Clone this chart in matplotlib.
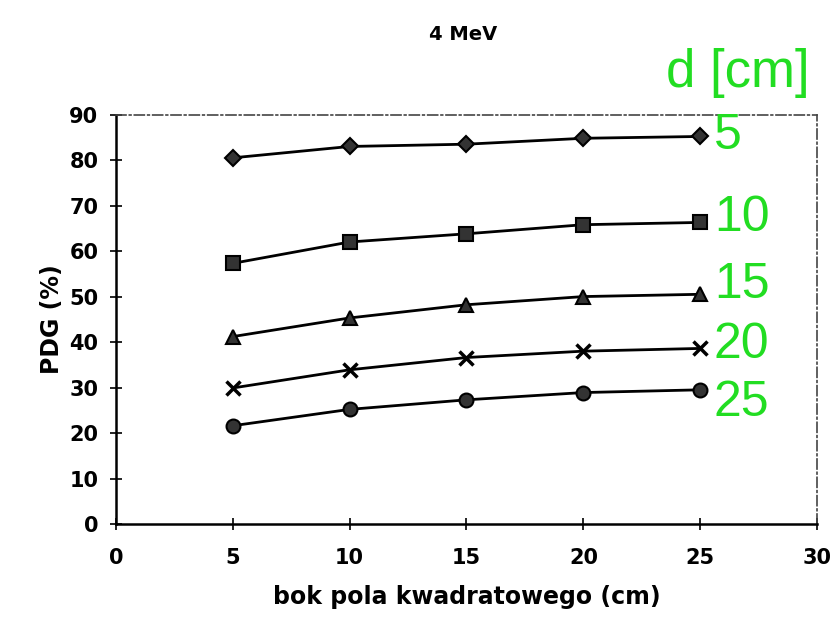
import matplotlib.pyplot as plt

# bok pola kwadratowego (cm)
bok = [5, 10, 15, 20, 25]

# PDG (%) dla kolejnych glebokosci d [cm]
pdg_d5 = [80.5, 83.0, 83.5, 84.8, 85.2]
pdg_d10 = [57.3, 62.0, 63.8, 65.8, 66.3]
pdg_d15 = [41.2, 45.3, 48.2, 50.0, 50.5]
pdg_d20 = [29.9, 33.9, 36.6, 38.0, 38.6]
pdg_d25 = [21.6, 25.2, 27.3, 28.9, 29.5]

glebokosci = ['5', '10', '15', '20', '25']
serie = [pdg_d5, pdg_d10, pdg_d15, pdg_d20, pdg_d25]
markery = ['D', 's', '^', 'x', 'o']
rozmiary = [8, 10, 10, 10, 10]

fig = plt.figure(figsize=(8.33, 6.25), dpi=100)
ax = fig.add_axes([0.139, 0.1616, 0.842, 0.655])

for waarden, m, ms in zip(serie, markery, rozmiary):
    ax.plot(bok, waarden, color='black', lw=2, marker=m, markersize=ms,
            markerfacecolor='#333333', markeredgecolor='black', mew=1.5 if m != 'x' else 2.5)

ax.set_xlim(0, 30)
ax.set_ylim(0, 90)
ax.set_xticks(range(0, 31, 5))
ax.set_yticks(range(0, 91, 10))
ax.tick_params(direction='inout', length=9, width=1.2, labelsize=15)
ax.tick_params(axis='x', pad=13)
ax.tick_params(axis='y', pad=8)
for lab in ax.get_xticklabels() + ax.get_yticklabels():
    lab.set_fontweight('bold')

for s in ['left', 'bottom']:
    ax.spines[s].set_linewidth(1.8)
for s in ['top', 'right']:
    ax.spines[s].set_linestyle((0, (6, 2, 1, 2)))
    ax.spines[s].set_color('#444444')
    ax.spines[s].set_linewidth(1.2)

ax.set_xlabel('bok pola kwadratowego (cm)', fontsize=17, fontweight='bold', labelpad=12)
ax.set_ylabel('PDG (%)', fontsize=17, fontweight='bold', labelpad=4)
fig.text(0.556, 0.944, '4 MeV', ha='center', va='center', fontsize=14, fontweight='bold')

groen = '#22dd22'
fig.text(0.886, 0.861, 'd [cm]', ha='center', va='baseline', fontsize=38,
         color=groen, family='Liberation Sans')
label_y = [0.782, 0.651, 0.544, 0.448, 0.355]
for tekst, yy in zip(glebokosci, label_y):
    fig.text(0.857, yy, tekst, ha='left', va='center', fontsize=36,
             color=groen, family='Liberation Sans')

fig.savefig('out.png', dpi=100)
